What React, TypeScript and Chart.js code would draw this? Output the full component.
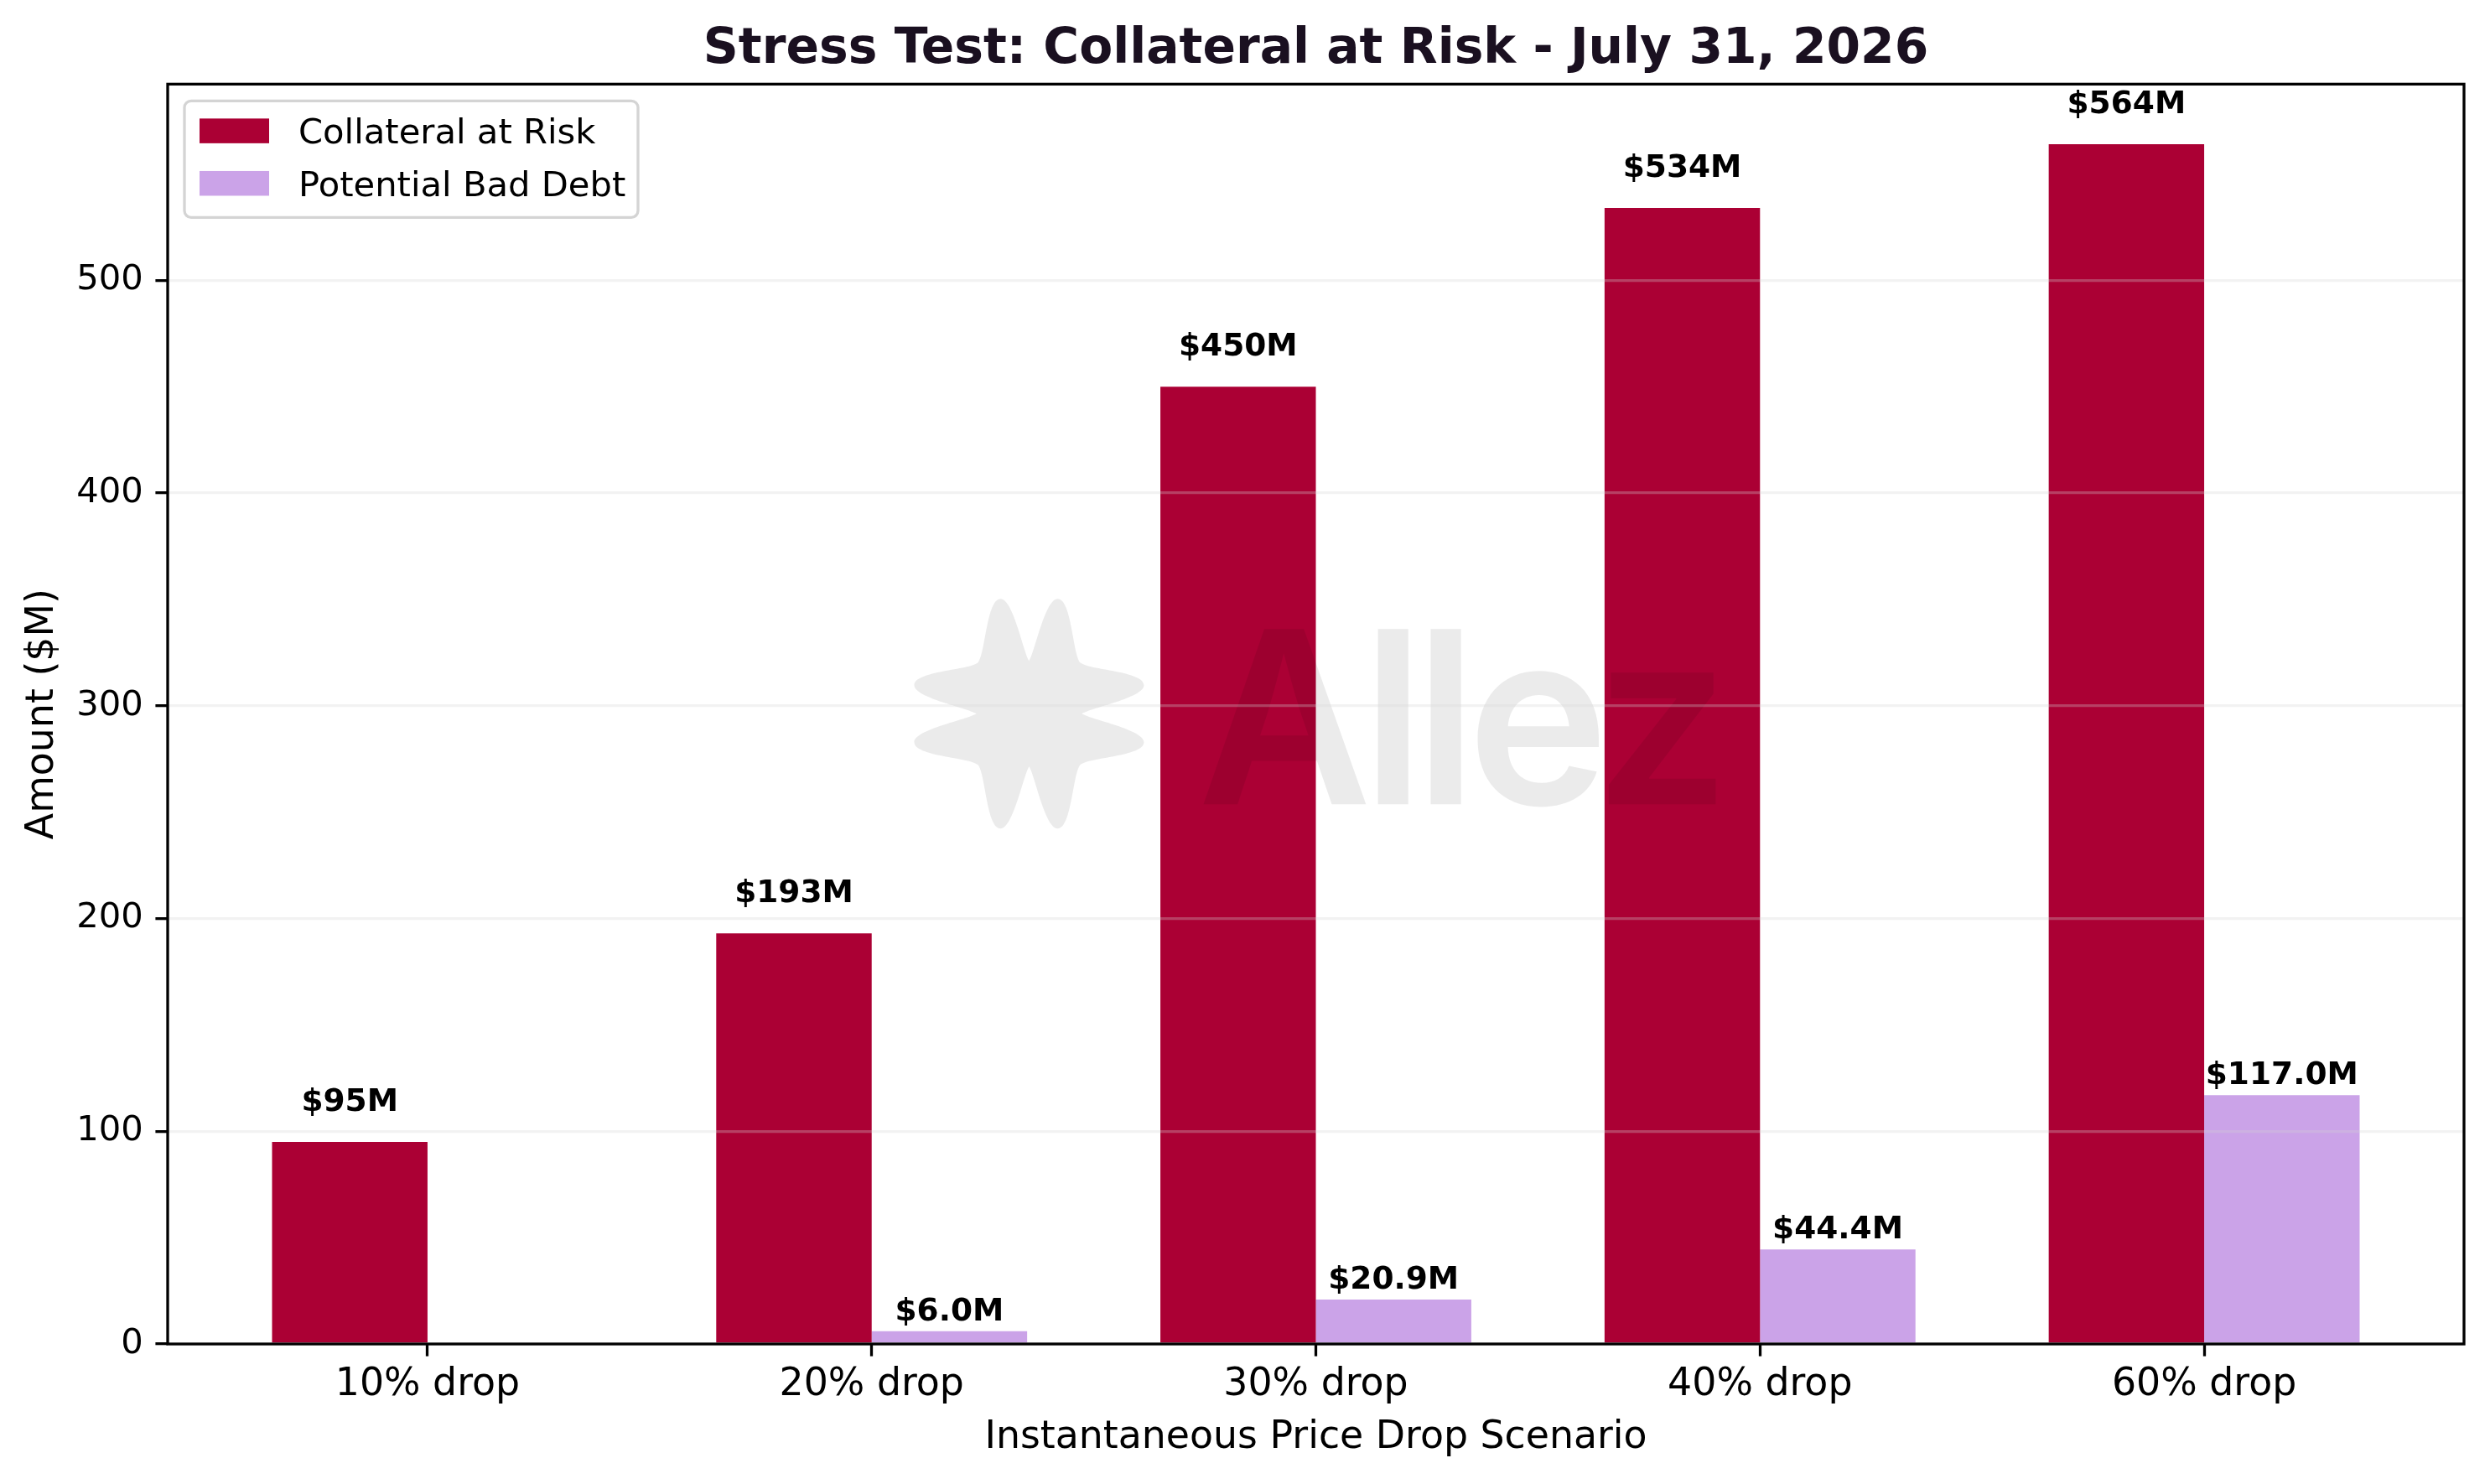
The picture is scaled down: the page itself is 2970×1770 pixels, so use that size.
import { useEffect, useRef } from 'react'
import { Chart, registerables } from 'chart.js'

Chart.register(...registerables)

const scenarios = ['10% drop', '20% drop', '30% drop', '40% drop', '60% drop']
const collateralAtRisk = [95, 193, 450, 534, 564]
const potentialBadDebt = [0, 6.0, 20.9, 44.4, 117.0]
const yTicks = [0, 100, 200, 300, 400, 500]

const RED = '#ab0034'
const PURPLE = '#cba3e8'
const FONT = "'DejaVu Sans', 'Liberation Sans', sans-serif"
const GRID = 'rgba(211, 211, 211, 0.3)'

// bars span i-0.35 .. i+0.35, matplotlib adds 5% margins
const X_MIN = -0.35 - 0.05 * 4.7
const X_MAX = 4.35 + 0.05 * 4.7
const Y_MAX = Math.max(...collateralAtRisk) * 1.05

// outline of the watermark star, top notch -> left notch (cubic segments)
const starQuarter = [
    [[0, -63], [-7, -74], [-19, -137], [-34, -137]],
    [[-34, -137], [-51, -137], [-52, -71], [-61, -61]],
    [[-61, -61], [-71, -52], [-137, -51], [-137, -34]],
    [[-137, -34], [-137, -19], [-74, -7], [-63, 0]],
]

const traceStar = (ctx: CanvasRenderingContext2D, cx: number, cy: number) => {
    const rev = (segs: number[][][]) => segs.slice().reverse().map(s => s.slice().reverse())
    const map = (segs: number[][][], fx: number, fy: number) =>
        segs.map(s => s.map(([x, y]) => [x * fx, y * fy]))
    const all = [
        ...starQuarter,
        ...rev(map(starQuarter, 1, -1)),
        ...map(starQuarter, -1, -1),
        ...rev(map(starQuarter, -1, 1)),
    ]
    ctx.moveTo(cx + all[0][0][0], cy + all[0][0][1])
    all.forEach(s => {
        ctx.bezierCurveTo(cx + s[1][0], cy + s[1][1], cx + s[2][0], cy + s[2][1], cx + s[3][0], cy + s[3][1])
    })
    ctx.closePath()
}

const watermark = {
    id: 'watermark',
    afterDatasetsDraw(chart: any) {
        const { ctx, chartArea } = chart
        const cx = (chartArea.left + chartArea.right) / 2
        const cy = (chartArea.top + chartArea.bottom) / 2
        ctx.save()
        ctx.fillStyle = 'rgba(0, 0, 0, 0.078)'
        ctx.beginPath()
        traceStar(ctx, cx - 342, cy - 0.5)
        ctx.fill()

        ctx.font = "600 290px Inter, 'Liberation Sans', sans-serif"
        ctx.letterSpacing = '-12px'
        ctx.textAlign = 'left'
        ctx.textBaseline = 'alphabetic'
        const m = ctx.measureText('Allez')
        const w = m.actualBoundingBoxLeft + m.actualBoundingBoxRight
        const capA = ctx.measureText('A').actualBoundingBoxAscent
        const sx = 616 / w
        const sy = 211 / capA
        ctx.translate(cx - 136.5 + m.actualBoundingBoxLeft * sx, cy + 107.5)
        ctx.scale(sx, sy)
        ctx.fillText('Allez', 0, 0)
        ctx.restore()
    },
}

const barLabels = {
    id: 'barLabels',
    afterDraw(chart: any) {
        const { ctx } = chart
        ctx.save()
        ctx.font = `bold 37.5px ${FONT}`
        ctx.fillStyle = '#000'
        ctx.textAlign = 'center'
        ctx.textBaseline = 'alphabetic'
        chart.data.datasets.forEach((ds: any, di: number) => {
            chart.getDatasetMeta(di).data.forEach((bar: any, i: number) => {
                const v = ds.data[i].y
                if (!v) return
                const text = di === 0 ? `$${v.toFixed(0)}M` : `$${v.toFixed(1)}M`
                ctx.fillText(text, bar.x, bar.y - (di === 0 ? 37 : 13))
            })
        })
        ctx.restore()
    },
}

const frame = {
    id: 'frame',
    afterDraw(chart: any) {
        const { ctx, chartArea: a } = chart
        ctx.save()
        ctx.strokeStyle = '#000'
        ctx.lineWidth = 3.3
        ctx.strokeRect(a.left, a.top, a.right - a.left, a.bottom - a.top)

        // legend, upper left inside the axes
        const x = a.left + 20
        const y = a.top + 20
        ctx.beginPath()
        ctx.roundRect(x, y, 541, 139, 8)
        ctx.fillStyle = 'rgba(255, 255, 255, 0.8)'
        ctx.fill()
        ctx.strokeStyle = '#d4d4d4'
        ctx.lineWidth = 3.3
        ctx.stroke()
        ctx.font = `41.7px ${FONT}`
        ctx.textAlign = 'left'
        ctx.textBaseline = 'alphabetic'
        chart.data.datasets.forEach((ds: any, i: number) => {
            const py = y + 21 + i * 62.6
            ctx.fillStyle = ds.backgroundColor
            ctx.fillRect(x + 18, py, 83, 29.5)
            ctx.fillStyle = '#000'
            ctx.fillText(ds.label, x + 136, py + 30)
        })
        ctx.restore()
    },
}

const App = () => {
    const chartRef = useRef<HTMLCanvasElement>(null)

    useEffect(() => {
        if (!chartRef.current) return
        const myChart = new Chart(chartRef.current, {
            type: 'bar',
            data: {
                datasets: [
                    {
                        label: 'Collateral at Risk',
                        data: collateralAtRisk.map((v, i) => ({ x: i, y: v })),
                        backgroundColor: RED,
                        borderWidth: 0,
                    },
                    {
                        label: 'Potential Bad Debt',
                        data: potentialBadDebt.map((v, i) => ({ x: i, y: v })),
                        backgroundColor: PURPLE,
                        borderWidth: 0,
                    },
                ],
            },
            options: {
                animation: false,
                responsive: false,
                devicePixelRatio: 1,
                events: [],
                datasets: {
                    bar: { categoryPercentage: 0.7, barPercentage: 1.0 },
                },
                layout: { padding: { left: 0, right: 31, top: 0, bottom: 0 } },
                scales: {
                    x: {
                        type: 'linear',
                        min: X_MIN,
                        max: X_MAX,
                        bounds: 'data',
                        offset: false,
                        afterBuildTicks: (scale: any) => {
                            scale.ticks = scenarios.map((_, i) => ({ value: i }))
                        },
                        afterFit: (scale: any) => {
                            scale.height = 167
                        },
                        ticks: {
                            autoSkip: false,
                            maxRotation: 0,
                            padding: 7,
                            color: '#000',
                            font: { family: FONT, size: 45.8, lineHeight: 1.2 },
                            callback: (value: any) => scenarios[value] ?? '',
                        },
                        grid: {
                            offset: false,
                            drawOnChartArea: false,
                            drawTicks: true,
                            tickLength: 14.6,
                            tickWidth: 3.3,
                            tickColor: '#000',
                        },
                        border: { display: false },
                        title: {
                            display: true,
                            text: 'Instantaneous Price Drop Scenario',
                            color: '#000',
                            font: { family: FONT, size: 45.8, lineHeight: 1.2 },
                            padding: { top: 0, bottom: 27.5 },
                        },
                    },
                    y: {
                        type: 'linear',
                        min: 0,
                        max: Y_MAX,
                        bounds: 'data',
                        afterBuildTicks: (scale: any) => {
                            scale.ticks = yTicks.map(v => ({ value: v }))
                        },
                        afterFit: (scale: any) => {
                            scale.width = 200
                        },
                        ticks: {
                            padding: 14.6,
                            color: '#000',
                            font: { family: FONT, size: 41.7, lineHeight: 1.2 },
                        },
                        grid: {
                            z: 1,
                            color: GRID,
                            lineWidth: 3.3,
                            drawTicks: true,
                            tickLength: 14.6,
                            tickWidth: 3.3,
                            tickColor: '#000',
                        },
                        border: { display: false },
                        title: {
                            display: true,
                            text: 'Amount ($M)',
                            color: '#000',
                            font: { family: FONT, size: 45.8, lineHeight: 1.2 },
                            padding: { top: 24, bottom: 0 },
                        },
                    },
                },
                plugins: {
                    legend: { display: false },
                    tooltip: { enabled: false },
                    title: {
                        display: true,
                        fullSize: false,
                        text: 'Stress Test: Collateral at Risk - July 31, 2026',
                        color: '#1a1020',
                        font: { family: FONT, size: 58.3, weight: 'bold', lineHeight: 1.2 },
                        padding: { top: 25, bottom: 5.4 },
                    },
                },
            } as any,
            plugins: [watermark, barLabels, frame],
        })

        return () => {
            myChart.destroy()
        }
    }, [])

    return (
        <div style={{ position: 'fixed', left: 0, top: 0, width: 2970, height: 1770, background: '#fff' }}>
            <canvas ref={chartRef} width="2970" height="1770" />
        </div>
    )
}

export default App
